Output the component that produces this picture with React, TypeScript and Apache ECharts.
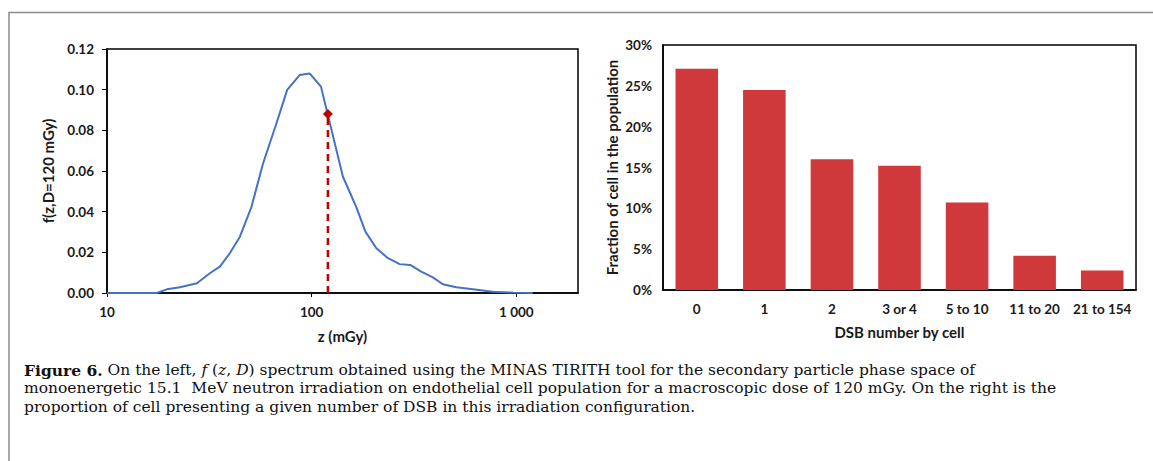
import React, { useEffect, useRef } from 'react';
import * as echarts from 'echarts';

// Left chart: f(z, D=120 mGy) spectrum
const zValues = [10, 12.6, 15.8, 17.5, 19.6, 22.7, 27.5, 31.8, 35.6, 39.8, 44.6, 50.8, 57.9, 67.3, 75.9, 87.3, 97.7, 111, 142, 165, 183, 207, 236, 269, 303, 343, 391, 437, 509, 612, 766, 960, 1200];
const fValues = [0, 0, 0, 0, 0.0018, 0.0028, 0.0048, 0.0097, 0.013, 0.0195, 0.0277, 0.0424, 0.0638, 0.0835, 0.0999, 0.1072, 0.108, 0.1015, 0.0573, 0.0424, 0.0302, 0.022, 0.0171, 0.0142, 0.0138, 0.0105, 0.0077, 0.0043, 0.0028, 0.0018, 0.0006, 0.0002, 0];
const doseZ = 120;
const doseF = 0.088;

// Right chart: DSB distribution
const dsbCategories = ['0', '1', '2', '3 or 4', '5 to 10', '11 to 20', '21 to 154'];
const dsbFractions = [27.1, 24.5, 16.0, 15.2, 10.7, 4.2, 2.4];

const captionLines = [
  '{b|Figure 6.} On the left, {i|f} ({i|z}, {i|D}) spectrum obtained using the MINAS TIRITH tool for the secondary particle phase space of',
  'monoenergetic 15.1  MeV neutron irradiation on endothelial cell population for a macroscopic dose of 120 mGy. On the right is the',
  'proportion of cell presenting a given number of DSB in this irradiation configuration.',
];

const SANS = 'Lato, "Open Sans", sans-serif';
const SERIF = '"DejaVu Serif", "Liberation Serif", serif';
const CAP = 15.5;
const CAP_LH = 18.2;

export default function App() {
  const ref = useRef<HTMLDivElement>(null);
  useEffect(() => {
    const chart = echarts.init(ref.current!, null, { renderer: 'svg', width: 1153, height: 461 });
    const tickLabel = { fontFamily: SANS, fontWeight: 'bold' as const, fontSize: 13.5, color: '#1a1a1a' };
    const nameStyle = { fontFamily: SANS, fontWeight: 'bold' as const, fontSize: 15, color: '#1a1a1a' };
    chart.setOption({
      animation: false,
      backgroundColor: '#fff',
      grid: [
        { left: 107, top: 49, width: 471, height: 244, show: true, borderColor: '#000', borderWidth: 1.5, backgroundColor: 'transparent' },
        { left: 663, top: 45, width: 473, height: 245, show: true, borderColor: '#000', borderWidth: 1.5, backgroundColor: 'transparent' },
      ],
      xAxis: [
        {
          gridIndex: 0,
          type: 'log',
          logBase: 10,
          min: 10,
          max: 2000,
          name: 'z (mGy)',
          nameLocation: 'middle',
          nameGap: 35,
          nameTextStyle: nameStyle,
          axisLine: { lineStyle: { color: '#000', width: 1.5 } },
          axisTick: { show: true, length: 4, lineStyle: { color: '#000' } },
          splitLine: { show: false },
          minorTick: { show: false },
          axisLabel: {
            ...tickLabel,
            margin: 12,
            showMaxLabel: false,
            formatter: (v: number) => {
              const r = Math.round(v);
              if (r === 10) return '10';
              if (r === 100) return '100';
              if (r === 1000) return '1 000';
              return '';
            },
          },
        },
        {
          gridIndex: 1,
          type: 'category',
          data: dsbCategories,
          name: 'DSB number by cell',
          nameLocation: 'middle',
          nameGap: 34,
          nameTextStyle: nameStyle,
          axisLine: { lineStyle: { color: '#000', width: 1.5 } },
          axisTick: { show: false },
          axisLabel: { ...tickLabel, margin: 12, interval: 0 },
        },
      ],
      yAxis: [
        {
          gridIndex: 0,
          type: 'value',
          min: 0,
          max: 0.12,
          interval: 0.02,
          name: 'f(z,D=120 mGy)',
          nameLocation: 'middle',
          nameRotate: 90,
          nameGap: 52,
          nameTextStyle: nameStyle,
          axisLine: { show: true, lineStyle: { color: '#000', width: 1.5 } },
          axisTick: { show: true, length: 5, lineStyle: { color: '#000' } },
          splitLine: { show: false },
          axisLabel: { ...tickLabel, margin: 13, formatter: (v: number) => v.toFixed(2) },
        },
        {
          gridIndex: 1,
          type: 'value',
          min: 0,
          max: 30,
          interval: 5,
          name: 'Fraction of cell in the population',
          nameLocation: 'middle',
          nameRotate: 90,
          nameGap: 44,
          nameTextStyle: nameStyle,
          axisLine: { show: true, lineStyle: { color: '#000', width: 1.5 } },
          axisTick: { show: false },
          splitLine: { show: false },
          axisLabel: { ...tickLabel, margin: 11, formatter: (v: number) => v + '%' },
        },
      ],
      series: [
        {
          type: 'line',
          xAxisIndex: 0,
          yAxisIndex: 0,
          data: zValues.map((z, i) => [z, fValues[i]]),
          showSymbol: false,
          symbol: 'none',
          lineStyle: { color: '#4472c4', width: 2 },
          z: 3,
        },
        {
          type: 'line',
          xAxisIndex: 0,
          yAxisIndex: 0,
          data: [
            { value: [doseZ, 0], symbol: 'none' },
            { value: [doseZ, doseF], symbol: 'diamond', symbolSize: 10 },
          ],
          lineStyle: { color: '#c00000', width: 2.5, type: [7, 5] },
          itemStyle: { color: '#c00000' },
          z: 4,
        },
        {
          type: 'bar',
          xAxisIndex: 1,
          yAxisIndex: 1,
          data: dsbFractions,
          barCategoryGap: '37%',
          itemStyle: { color: '#d0393b' },
        },
      ],
      graphic: [
        {
          type: 'polyline',
          shape: { points: [[9, 461], [9, 12.5], [1153, 12.5]] },
          style: { stroke: '#8c8c8c', lineWidth: 1.5, fill: 'none' },
          silent: true,
        },
        {
          type: 'text',
          left: 24,
          top: 361,
          silent: true,
          style: {
            text: captionLines.join('\n'),
            fontFamily: SERIF,
            fontSize: CAP,
            lineHeight: CAP_LH,
            fill: '#111',
            rich: {
              b: { fontFamily: SERIF, fontSize: CAP, lineHeight: CAP_LH, fontWeight: 'bold', color: '#111' },
              i: { fontFamily: SERIF, fontSize: CAP, lineHeight: CAP_LH, fontStyle: 'italic', color: '#111' },
            },
          },
        },
      ],
    });
    return () => chart.dispose();
  }, []);
  return (
    <div
      ref={ref}
      style={{ position: 'absolute', left: 0, top: 0, width: 1153, height: 461, background: '#fff' }}
    />
  );
}
